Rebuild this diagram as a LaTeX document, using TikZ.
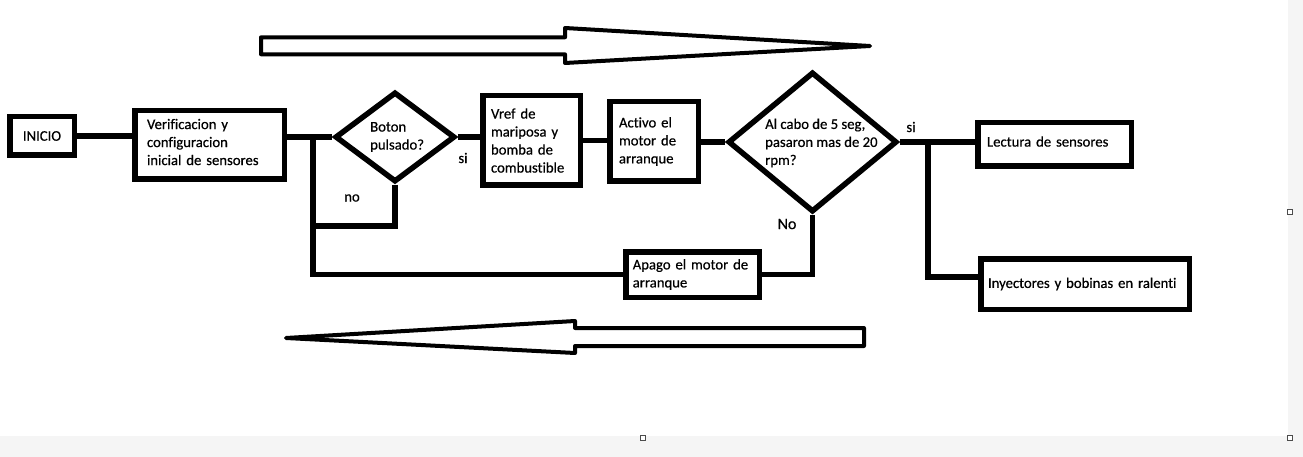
\documentclass[tikz,border=0pt]{standalone}
\usepackage{fontspec}
\setmainfont{Carlito}[FakeBold=0.5,Ligatures=NoCommon]
\usetikzlibrary{calc,shapes.geometric}

\begin{document}
\begin{tikzpicture}[x=1pt,y=-1pt,
        box/.style={draw,line width=5.5pt,inner ysep=0pt,align=left},
        rombo/.style={draw,diamond,line width=5.5pt,inner sep=0pt},
        conn/.style={line width=5.5pt},
        flecha/.style={draw,line width=4pt,line join=round,fill=white},
        txt/.style={inner sep=0pt,align=left},
        every node/.style={font=\fontsize{14.7}{18}\selectfont}]
        \useasboundingbox (0,0) rectangle (1303,457);
        \fill[black!4] (0,0) rectangle (1303,457);
        \fill[white] (0,0) rectangle (1288,436);
        \foreach \x/\y in {643/438,1290/438,1290/212}
        \draw[black!70,fill=white,line width=0.8pt] (\x-2.2,\y-2.2) rectangle (\x+2.2,\y+2.2);

        \node[box,minimum width=64.5pt,minimum height=38.5pt,inner xsep=0pt] (inicio) at (42,136) {INICIO};
        \node[box,minimum width=149.5pt,minimum height=68.5pt,inner xsep=12.25pt,text width=125pt] (verif) at (209.5,145)
            {Verificacion y\\configuracion\\inicial de sensores\rule[-6pt]{0pt}{6pt}};
        \node[rombo,minimum width=120pt,minimum height=90pt] (boton) at (395,137) {};
        \node[txt,anchor=west] (botontxt) at (370,137) {Boton\\pulsado?};
        \node[box,minimum width=97.5pt,minimum height=89.5pt,inner xsep=8.25pt,text width=81pt] (vref) at (531.5,140.5)
            {Vref de\\mariposa y\\bomba de\\combustible};
        \node[box,minimum width=88.5pt,minimum height=79.5pt,inner xsep=9.25pt,text width=70pt] (activo) at (654,141.5)
            {Activo el\\motor de\\arranque};
        \node[rombo,minimum width=169pt,minimum height=140pt] (rpm) at (812.5,142) {};
        \node[txt,anchor=west] (rpmtxt) at (765,143) {Al cabo de 5 seg,\\pasaron mas de 20\\rpm?};
        \node[box,minimum width=133.5pt,minimum height=45.5pt,inner xsep=7pt,text width=119.5pt] (apago) at (692.5,274.5)
            {Apago el motor de\\arranque};
        \node[box,minimum width=153.5pt,minimum height=43.5pt,inner xsep=9.25pt,text width=135pt] (lectura) at (1054.5,144.5)
            {Lectura de sensores\rule[-6pt]{0pt}{6pt}};
        \node[box,minimum width=208.5pt,minimum height=50.5pt,inner xsep=7.25pt,text width=194pt] (inyect) at (1085,284)
            {Inyectores y bobinas en ralenti};

        \node (nolbl) at (352,198) {no};
        \node (silbl) at (463,158) {si};
        \node[font=\fontsize{16}{19}\selectfont] (nolbltwo) at (787,224) {No};
        \node (silbltwo) at (911,127) {si};

        \coordinate (lazo) at (313,138);
        \coordinate (rama) at (928,143);

        \draw[conn] (inicio.east) -- (inicio.east -| verif.west);
        \draw[conn] (verif.east |- boton.west) -- (boton.west);
        \draw[conn] (boton.south) -- ++(0,41) -| (lazo);
        \draw[conn] (lazo) |- (apago.west);
        \draw[conn] (boton.east) -- (boton.east -| vref.west);
        \draw[conn] (vref.east) -- (vref.east -| activo.west);
        \draw[conn] (activo.east |- rpm.west) -- (rpm.west);
        \draw[conn] (rpm.south) |- (apago.east);
        \draw[conn] (rpm.east) -- (rpm.east -| lectura.west);
        \draw[conn] (rama) |- ($(inyect.west)+(0,-7)$);

        % flechas grandes
        \draw[flecha] (261,37.3) -- (565,37.3) -- (565,28) -- (870,46) -- (565,63) -- (565,54.3) -- (261,54.3) -- cycle;
        \draw[flecha] (864,328) -- (575,328) -- (575,321) -- (286,338) -- (575,353) -- (575,346) -- (864,346) -- cycle;
    \end{tikzpicture}
\end{document}
